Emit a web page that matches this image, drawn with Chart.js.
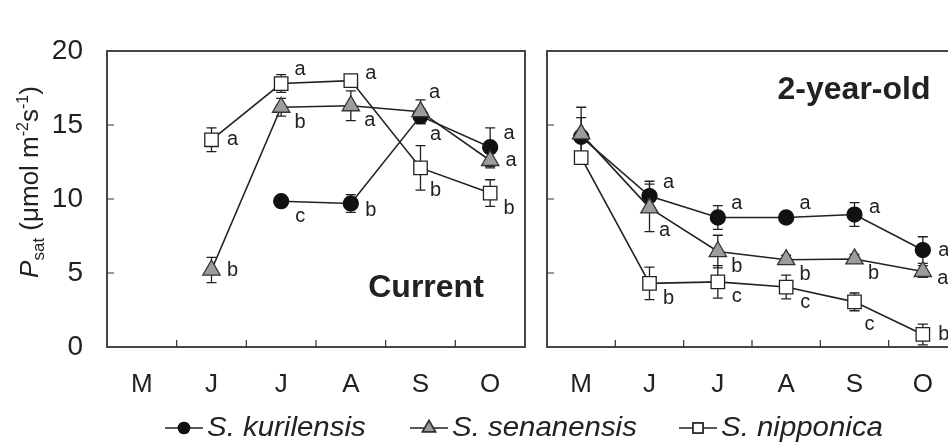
<!DOCTYPE html>
<html lang="en">
<head>
<meta charset="UTF-8">
<title>Psat of current and 2-year-old leaves</title>
<script src="https://cdn.jsdelivr.net/npm/chart.js"></script>
<style>
  html, body { margin: 0; padding: 0; background: #fff; overflow: hidden; }
  body { width: 948px; height: 442px; position: relative; }
  #leftChart { position: absolute; left: 0; top: 0; }
  #rightChart { position: absolute; left: 530px; top: 0; }
</style>
</head>
<body>
<canvas id="leftChart" width="948" height="442"></canvas>
<canvas id="rightChart" width="440" height="442"></canvas>
<script>
const FONT = "'Liberation Sans', Arial, sans-serif";
const INK = '#222';

const months = ['M', 'J', 'J', 'A', 'S', 'O'];
const speciesNames = ['S. kurilensis', 'S. senanensis', 'S. nipponica'];

// Current-year leaves (means, SE, letters)
const curKurilensis = [null, null, 9.85, 9.7, 15.6, 13.5];
const curKurilensisSE = [null, null, 0.2, 0.6, 0.5, 1.3];
const curKurilensisLetters = [null, null, 'c', 'b', 'a', 'a'];
const curSenanensis = [null, 5.2, 16.2, 16.3, 15.9, 12.6];
const curSenanensisSE = [null, 0.85, 0.6, 1.0, 0.8, 0.5];
const curSenanensisLetters = [null, 'b', 'b', 'a', 'a', 'a'];
const curNipponica = [null, 14.0, 17.8, 18.0, 12.1, 10.4];
const curNipponicaSE = [null, 0.8, 0.6, 0.3, 1.5, 0.9];
const curNipponicaLetters = [null, 'a', 'a', 'a', 'b', 'b'];

// 2-year-old leaves
const oldKurilensis = [14.2, 10.2, 8.75, 8.75, 8.95, 6.55];
const oldKurilensisSE = [1.3, 1.0, 0.8, 0.4, 0.8, 0.9];
const oldKurilensisLetters = [null, 'a', 'a', 'a', 'a', 'a'];
const oldSenanensis = [14.4, 9.4, 6.45, 5.9, 5.95, 5.1];
const oldSenanensisSE = [1.8, 1.6, 1.1, 0.3, 0.3, 0.4];
const oldSenanensisLetters = [null, 'a', 'b', 'b', 'b', 'a'];
const oldNipponica = [12.8, 4.3, 4.4, 4.05, 3.05, 0.85];
const oldNipponicaSE = [0.3, 1.1, 1.1, 0.8, 0.6, 0.7];
const oldNipponicaLetters = [null, 'b', 'c', 'c', 'c', 'b'];

// where each letter sits around its point
const curKurilensisPlace = [null, null, 'se', 'ese', 'NE', 'ne'];
const curSenanensisPlace = [null, 'e', 'se', 'se', 'SE', 'e'];
const curNipponicaPlace = [null, 'e', 'ne', 'ene', 'SE', 'se'];
const oldKurilensisPlace = [null, 'ne', 'ne', 'ne', 'ene', 'e'];
const oldSenanensisPlace = [null, 'SE', 'se', 'se', 'se', 'ese'];
const oldNipponicaPlace = [null, 'se', 'se', 'se', 'SE', 'e'];

const placeOffsets = {
    e: [21, 0], ene: [20, -7], ese: [20, 7],
    ne: [19, -14], se: [19, 15], NE: [14, -24], SE: [15, 23]
};

// marker styles per species
const styles = [
    { pointStyle: 'circle', radius: 7.5, fill: '#111', stroke: '#111' },
    { pointStyle: 'triangle', radius: 10, fill: '#9c9c9c', stroke: '#333' },
    { pointStyle: 'rect', radius: 9.5, fill: '#fff', stroke: '#222' }
];

function makeDataset(i, data, se, letters, place) {
    const s = styles[i];
    return {
        label: speciesNames[i],
        data: data,
        se: se,
        letters: letters,
        place: place,
        order: 3 - i,
        borderColor: INK,
        borderWidth: 1.6,
        pointStyle: s.pointStyle,
        pointRadius: s.radius,
        pointBackgroundColor: s.fill,
        pointBorderColor: s.stroke,
        pointBorderWidth: 1.3,
        tension: 0,
        clip: false
    };
}

// box, inward ticks, error bars, letters and the panel title
const panelDeco = {
    id: 'panelDeco',
    beforeDatasetsDraw(chart) {
        const { ctx, scales: { x, y } } = chart;
        ctx.save();
        ctx.strokeStyle = INK;
        ctx.lineWidth = 1.3;
        chart.data.datasets.forEach(ds => {
            ds.se.forEach((e, i) => {
                const v = ds.data[i];
                if (v == null || e == null) return;
                const px = x.getPixelForValue(i);
                const top = y.getPixelForValue(v + e);
                const bot = y.getPixelForValue(v - e);
                ctx.beginPath();
                ctx.moveTo(px, top); ctx.lineTo(px, bot);
                ctx.moveTo(px - 5, top); ctx.lineTo(px + 5, top);
                ctx.moveTo(px - 5, bot); ctx.lineTo(px + 5, bot);
                ctx.stroke();
            });
        });
        ctx.restore();
    },
    afterDatasetsDraw(chart, args, opts) {
        const { ctx, chartArea: a, scales: { x, y } } = chart;
        ctx.save();
        // frame
        ctx.strokeStyle = '#333';
        ctx.lineWidth = 1.8;
        ctx.strokeRect(a.left, a.top, a.right - a.left, a.bottom - a.top);
        // inward ticks
        ctx.lineWidth = 1.2;
        ctx.beginPath();
        [5, 10, 15].forEach(v => {
            const py = y.getPixelForValue(v);
            ctx.moveTo(a.left, py); ctx.lineTo(a.left + 7, py);
        });
        for (let i = 1; i < months.length; i++) {
            const px = (x.getPixelForValue(i - 1) + x.getPixelForValue(i)) / 2;
            ctx.moveTo(px, a.bottom); ctx.lineTo(px, a.bottom - 7);
        }
        ctx.stroke();
        // significance letters
        ctx.fillStyle = INK;
        ctx.font = '20px ' + FONT;
        ctx.textAlign = 'center';
        ctx.textBaseline = 'middle';
        chart.data.datasets.forEach(ds => {
            ds.letters.forEach((t, i) => {
                if (!t) return;
                const off = placeOffsets[ds.place[i]];
                const px = x.getPixelForValue(i) + off[0];
                const py = y.getPixelForValue(ds.data[i]) + off[1];
                ctx.fillText(t, px, py);
            });
        });
        // panel title
        ctx.font = 'bold 32px ' + FONT;
        ctx.textBaseline = 'alphabetic';
        ctx.fillText(opts.title, opts.tx, opts.ty);
        ctx.restore();
    }
};

// y-axis title and the legend across the bottom
const leftExtras = {
    id: 'leftExtras',
    afterDraw(chart) {
        const { ctx } = chart;
        ctx.save();
        ctx.fillStyle = INK;
        // rotated y label: P_sat (μmol m-2 s-1)
        const parts = [
            { t: 'P', f: 'italic 26px ' + FONT, dy: 0 },
            { t: 'sat', f: '17px ' + FONT, dy: 6 },
            { t: ' (\u03bcmol m', f: '26px ' + FONT, dy: 0 },
            { t: '-2', f: '16px ' + FONT, dy: -10 },
            { t: 's', f: '26px ' + FONT, dy: 0 },
            { t: '-1', f: '16px ' + FONT, dy: -10 },
            { t: ')', f: '26px ' + FONT, dy: 0 }
        ];
        let total = 0;
        parts.forEach(p => { ctx.font = p.f; p.w = ctx.measureText(p.t).width; total += p.w; });
        ctx.translate(29, 182);
        ctx.rotate(-Math.PI / 2);
        ctx.textBaseline = 'alphabetic';
        ctx.textAlign = 'left';
        let cx = -total / 2;
        parts.forEach(p => {
            ctx.font = p.f;
            ctx.fillText(p.t, cx, 9 + p.dy);
            cx += p.w;
        });
        ctx.setTransform(1, 0, 0, 1, 0, 0);

        // legend
        const legendX = [165, 410, 679];
        const legendR = [5.5, 7.5, 7];
        const ly = 428;
        ctx.strokeStyle = INK;
        ctx.lineWidth = 1.5;
        ctx.font = 'italic 27px ' + FONT;
        ctx.textBaseline = 'middle';
        speciesNames.forEach((name, i) => {
            const lx = legendX[i];
            ctx.beginPath();
            ctx.moveTo(lx, ly); ctx.lineTo(lx + 38, ly);
            ctx.stroke();
            Chart.helpers.drawPoint(ctx, {
                pointStyle: styles[i].pointStyle,
                radius: legendR[i],
                rotation: 0,
                borderWidth: 1.2
            }, lx + 19, ly);
            ctx.save();
            ctx.fillStyle = styles[i].fill;
            ctx.strokeStyle = styles[i].stroke;
            ctx.fill();
            ctx.stroke();
            ctx.restore();
            // the printed legend type is slightly wider than the font
            ctx.save();
            ctx.translate(lx + 42, ly);
            ctx.scale(1.09, 1);
            ctx.fillStyle = INK;
            ctx.fillText(name, 0, 0);
            ctx.restore();
        });
        ctx.restore();
    }
};

function xScale() {
    return {
        type: 'category',
        offset: true,
        grid: { display: false, drawTicks: false },
        border: { display: false },
        ticks: { color: INK, font: { family: FONT, size: 26 }, padding: 22, maxRotation: 0, autoSkip: false },
        afterFit(s) { s.height = 95; }
    };
}

new Chart(document.getElementById('leftChart'), {
    type: 'line',
    data: {
        labels: months,
        datasets: [
            makeDataset(0, curKurilensis, curKurilensisSE, curKurilensisLetters, curKurilensisPlace),
            makeDataset(1, curSenanensis, curSenanensisSE, curSenanensisLetters, curSenanensisPlace),
            makeDataset(2, curNipponica, curNipponicaSE, curNipponicaLetters, curNipponicaPlace)
        ]
    },
    options: {
        responsive: false,
        animation: false,
        layout: { padding: { left: 0, top: 51, right: 423, bottom: 0 } },
        scales: {
            x: xScale(),
            y: {
                min: 0, max: 20,
                grid: { display: false, drawTicks: false },
                border: { display: false },
                ticks: { stepSize: 5, color: INK, font: { family: FONT, size: 28 }, padding: 24 },
                afterFit(s) { s.width = 107; }
            }
        },
        plugins: {
            legend: { display: false },
            tooltip: { enabled: false },
            panelDeco: { title: 'Current', tx: 426, ty: 297 }
        }
    },
    plugins: [panelDeco, leftExtras]
});

new Chart(document.getElementById('rightChart'), {
    type: 'line',
    data: {
        labels: months,
        datasets: [
            makeDataset(0, oldKurilensis, oldKurilensisSE, oldKurilensisLetters, oldKurilensisPlace),
            makeDataset(1, oldSenanensis, oldSenanensisSE, oldSenanensisLetters, oldSenanensisPlace),
            makeDataset(2, oldNipponica, oldNipponicaSE, oldNipponicaLetters, oldNipponicaPlace)
        ]
    },
    options: {
        responsive: false,
        animation: false,
        layout: { padding: { left: 17, top: 51, right: 13, bottom: 0 } },
        scales: {
            x: xScale(),
            y: { display: false, min: 0, max: 20 }
        },
        plugins: {
            legend: { display: false },
            tooltip: { enabled: false },
            panelDeco: { title: '2-year-old', tx: 324, ty: 99 }
        }
    },
    plugins: [panelDeco]
});
</script>
</body>
</html>
